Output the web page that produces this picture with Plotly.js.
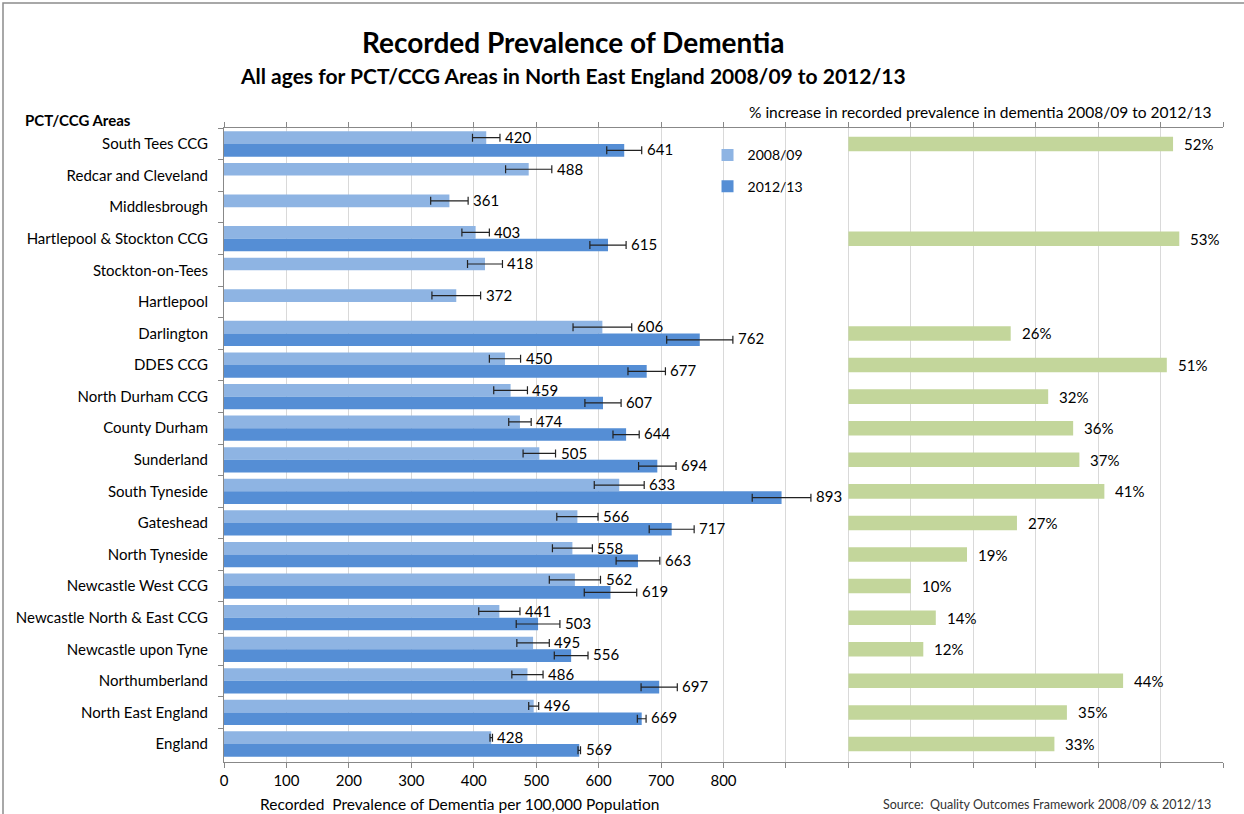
<!DOCTYPE html>
<html><head><meta charset="utf-8">
<script src="https://cdn.plot.ly/plotly-3.0.1.min.js"></script>
<style>body{margin:0;background:#fff}#chart{width:1244px;height:814px}</style>
</head><body><div id="chart"></div>
<script>
const areas = ["South Tees CCG","Redcar and Cleveland","Middlesbrough","Hartlepool & Stockton CCG","Stockton-on-Tees","Hartlepool","Darlington","DDES CCG","North Durham CCG","County Durham","Sunderland","South Tyneside","Gateshead","North Tyneside","Newcastle West CCG","Newcastle North & East CCG","Newcastle upon Tyne","Northumberland","North East England","England"];
const prev0809 = [420,488,361,403,418,372,606,450,459,474,505,633,566,558,562,441,495,486,496,428];
const prev1213 = [641,null,null,615,null,null,762,677,607,644,694,893,717,663,619,503,556,697,669,569];
const err0809 = [22,37,30,22,28,39,47,25,27,18,26,40,33,32,41,33,26,25,8,2];
const err1213 = [28,null,null,29,null,null,53,30,29,21,30,47,36,35,42,35,27,29,7,2];
const pctIncrease = [52,null,null,53,null,null,26,51,32,36,37,41,27,19,10,14,12,44,35,33];
const xTickVals = [0,100,200,300,400,500,600,700,800,900,1000,1100,1200,1300,1400,1500,1600];
const xTickText = ["0","100","200","300","400","500","600","700","800","","","","","","","",""];
const seriesNames = ["2008/09","2012/13"];

const FONT = "Lato, 'Open Sans', sans-serif";
const light = "#8EB4E3", dark = "#558ED5", green = "#C3D69B";

const traces = [
  {type:"bar", orientation:"h", y:areas, x:prev0809, name:seriesNames[0], legendgroup:"a",
   marker:{color:light}, error_x:{type:"data", array:err0809, color:"#222", thickness:1.2, width:4},
   xaxis:"x", yaxis:"y", hoverinfo:"x+y"},
  {type:"bar", orientation:"h", y:areas, x:prev1213, name:seriesNames[1], legendgroup:"b",
   marker:{color:dark}, error_x:{type:"data", array:err1213, color:"#222", thickness:1.2, width:4},
   xaxis:"x", yaxis:"y", hoverinfo:"x+y"},
  {type:"bar", orientation:"h", y:areas, x:pctIncrease, name:"% increase", showlegend:false,
   marker:{color:green}, width:0.46, xaxis:"x2", yaxis:"y", hoverinfo:"x+y"}
];

const annotations = [];
areas.forEach((a,i)=>{
  if (prev0809[i]!=null) annotations.push({x:prev0809[i]+err0809[i], y:a, xref:"x", yref:"y",
    text:String(prev0809[i]), showarrow:false, xanchor:"left", xshift:3, yshift:7,
    font:{family:FONT,size:15,color:"#000"}});
  if (prev1213[i]!=null) annotations.push({x:prev1213[i]+err1213[i], y:a, xref:"x", yref:"y",
    text:String(prev1213[i]), showarrow:false, xanchor:"left", xshift:3, yshift:-5,
    font:{family:FONT,size:15,color:"#000"}});
  if (pctIncrease[i]!=null) annotations.push({x:pctIncrease[i], y:a, xref:"x2", yref:"y",
    text:pctIncrease[i]+"%", showarrow:false, xanchor:"left", xshift:9,
    font:{family:FONT,size:15,color:"#000"}});
});
// px->paper helpers for titles (plot area 224..1223 x, 128..762 y)
const px = v => (v-224)/999, py = v => (762-v)/634;
annotations.push(
  {xref:"paper", yref:"paper", x:px(573), y:py(42), text:"<b>Recorded Prevalence of Dementia</b>", showarrow:false,
   xanchor:"center", yanchor:"middle", font:{family:FONT,size:28,color:"#000"}},
  {xref:"paper", yref:"paper", x:px(573), y:py(75), text:"<b>All ages for PCT/CCG Areas in North East England 2008/09 to 2012/13</b>", showarrow:false,
   xanchor:"center", yanchor:"middle", font:{family:FONT,size:21,color:"#000"}},
  {xref:"paper", yref:"paper", x:px(23), y:py(120), text:"<b>PCT/CCG Areas</b>", showarrow:false,
   xanchor:"left", yanchor:"middle", font:{family:FONT,size:15,color:"#000"}},
  {xref:"paper", yref:"paper", x:px(1213), y:py(112), text:"% increase in recorded prevalence in dementia 2008/09 to 2012/13", showarrow:false,
   xanchor:"right", yanchor:"middle", font:{family:FONT,size:15.5,color:"#000"}},
  {xref:"paper", yref:"paper", x:px(459), y:py(804), text:"Recorded  Prevalence of Dementia per 100,000 Population", showarrow:false,
   xanchor:"center", yanchor:"middle", font:{family:FONT,size:15.5,color:"#000"}},
  {xref:"paper", yref:"paper", x:px(1213), y:py(804), text:"Source:  Quality Outcomes Framework 2008/09 & 2012/13", showarrow:false,
   xanchor:"right", yanchor:"middle", font:{family:FONT,size:12.5,color:"#333"}}
);

const layout = {
  width:1244, height:814,
  margin:{l:224, r:21, t:128, b:52, pad:0},
  paper_bgcolor:"#fff", plot_bgcolor:"#fff",
  font:{family:FONT, size:15, color:"#000"},
  barmode:"group", bargap:0.2, bargroupgap:0,
  showlegend:true,
  legend:{x:0.484, y:0.982, xanchor:"left", yanchor:"top", bgcolor:"rgba(0,0,0,0)",
    font:{family:FONT,size:14,color:"#000"}, tracegroupgap:10, traceorder:"grouped"},
  xaxis:{range:[0,1600], tickmode:"array", tickvals:xTickVals, ticktext:xTickText,
    showgrid:true, gridcolor:"#D9D9D9", gridwidth:1, zeroline:false,
    showline:true, linecolor:"#888", linewidth:1, mirror:"ticks",
    ticks:"outside", ticklen:5, tickcolor:"#888", tickfont:{family:FONT,size:15,color:"#000"},
    fixedrange:true},
  xaxis2:{overlaying:"x", range:[-100,60], visible:false, fixedrange:true},
  yaxis:{type:"category", autorange:"reversed", showgrid:false, zeroline:false,
    showline:true, linecolor:"#888", linewidth:1, ticks:"outside", tickson:"boundaries",
    ticklen:5, tickcolor:"#888", ticklabelstandoff:12,
    tickfont:{family:FONT,size:15,color:"#000"}, fixedrange:true},
  shapes:[{type:"rect", xref:"paper", yref:"paper", x0:px(3), x1:px(1260), y0:py(830), y1:py(3),
    line:{color:"#8c8c8c", width:1.5}, fillcolor:"rgba(0,0,0,0)", layer:"below"}],
  annotations:annotations
};
Plotly.newPlot("chart", traces, layout, {displayModeBar:false, staticPlot:true});
</script></body></html>
